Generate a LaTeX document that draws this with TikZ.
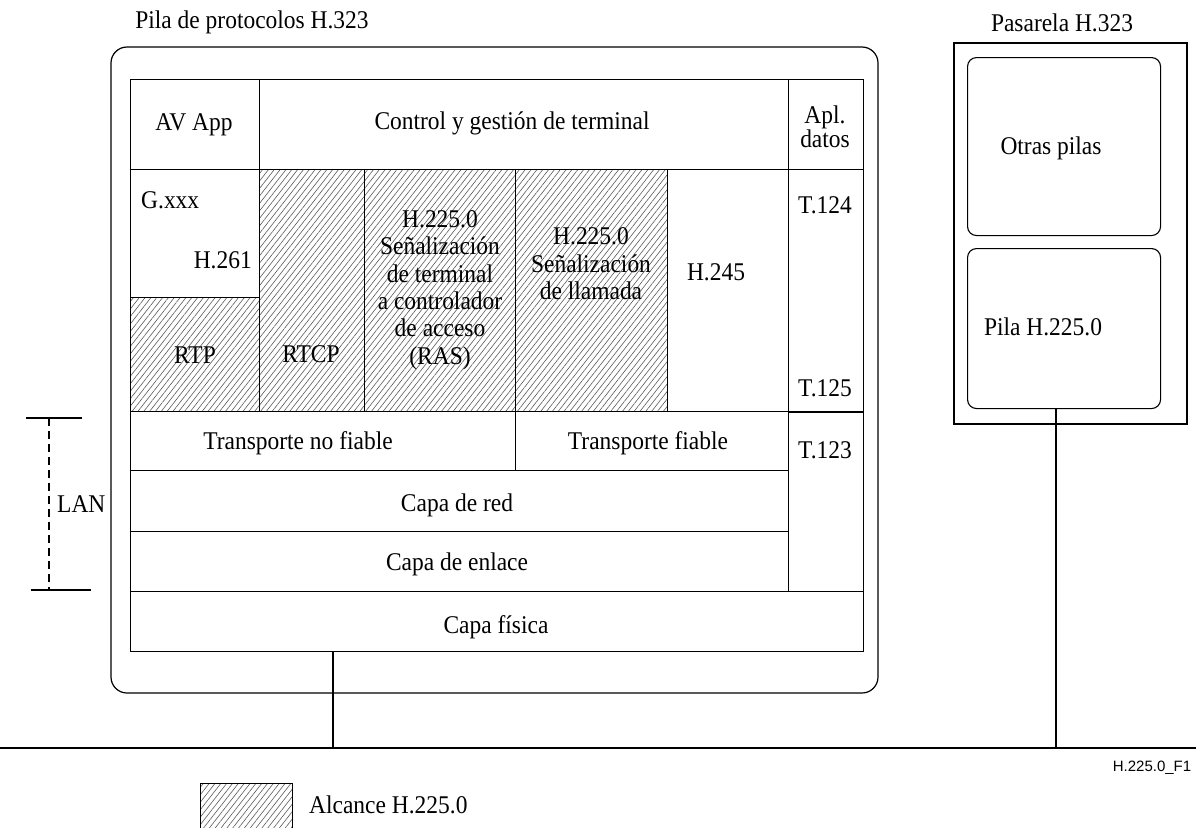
\documentclass[tikz,border=0pt]{standalone}
\usepackage{fontspec}
\setmainfont{Liberation Serif}[FakeStretch=0.92]
\newfontfamily\labelsans{Liberation Sans}
\usetikzlibrary{patterns.meta}
\begin{document}
\begin{tikzpicture}[x=1pt,y=-1pt,
  every node/.style={font=\fontsize{25.5}{27.4}\selectfont, inner sep=0pt},
  cell/.style={draw, line width=1.2pt, anchor=north west, minimum width=#1},
  scope225/.style={pattern={Lines[angle=52,distance=4.6pt,line width=0.6pt]}, pattern color=black!65},
  stackbox/.style={draw, line width=1.1pt, rounded corners=9pt, anchor=north west},
  wire/.style={line width=1.1pt}]
\useasboundingbox (0,0) rectangle (1196,827);

% titles
\node (titleL) at (252,22) {Pila de protocolos H.323};
\node (titleR) at (1062,23) {Pasarela H.323};

% terminal protocol stack frame
\draw[line width=1.2pt, rounded corners=16pt] (111,47) rectangle (878,693);

% top row
\node[cell=129, minimum height=90] (avapp) at (130,79) {};
\node[cell=529, minimum height=90] (ctrl) at (259,79) {};
\node[cell=75, minimum height=90] (apl) at (788,79) {};
% media / signalling row
\node[cell=129, minimum height=128] (gxxx) at (130,169) {};
\node[cell=129, minimum height=114, scope225] (rtp) at (130,297) {};
\node[cell=105, minimum height=242, scope225] (rtcp) at (259,169) {};
\node[cell=151, minimum height=242, scope225] (ras) at (364,169) {};
\node[cell=152, minimum height=242, scope225] (call) at (515,169) {};
\node[cell=121, minimum height=242] (h245) at (667,169) {};
\node[cell=75, minimum height=242] (tcol) at (788,169) {};
% transport and lower layers
\node[cell=385, minimum height=59] (unrel) at (130,411) {};
\node[cell=273, minimum height=59] (rel) at (515,411) {};
\node[cell=75, minimum height=180] (t123) at (788,411) {};
\node[cell=658, minimum height=61] (net) at (130,470) {};
\node[cell=658, minimum height=60] (link) at (130,531) {};
\node[cell=733, minimum height=60] (phys) at (130,591) {};
\draw[line width=2pt] (tcol.south west) -- (tcol.south east);

% cell texts
\node at (194,125) {AV App};
\node at (512,123) {Control y gestión de terminal};
\node[align=center, font=\fontsize{25.5}{22}\selectfont] at (825,127) {Apl.\\datos};
\node[anchor=west] at (141,200) {G.xxx};
\node[anchor=east] at (252,260) {H.261};
\node at (195,355) {RTP};
\node at (311,354) {RTCP};
\node[align=center] at (440,290) {H.225.0\\Señalización\\de terminal\\a controlador\\de acceso\\(RAS)};
\node[align=center] at (591,264) {H.225.0\\Señalización\\de llamada};
\node at (716,272) {H.245};
\node at (825,205) {T.124};
\node at (825,388) {T.125};
\node at (298,443) {Transporte no fiable};
\node at (648,443) {Transporte fiable};
\node at (825,450) {T.123};
\node at (457,505) {Capa de red};
\node at (457,564) {Capa de enlace};
\node at (496,627) {Capa física};

% gateway
\draw[line width=1.1pt] (954,43) rectangle (1187,424);
\node[stackbox, minimum width=193, minimum height=178] (others) at (967,57) {};
\node[stackbox, minimum width=193, minimum height=160] (gwstack) at (967,248) {};
\node at (1051,148) {Otras pilas};
\node at (1043,327) {Pila H.225.0};

% LAN segment
\coordinate (lanW) at (0,748);
\coordinate (lanE) at (1196,748);
\coordinate (tapA) at (333,748);
\coordinate (tapB) at (1056,748);
\draw[wire] (lanW) -- (lanE);
\draw[wire] (phys.south -| tapA) -- (tapA);
\draw[wire] (gwstack.south -| tapB) -- (tapB);

% LAN extent marker
\coordinate (lanTop) at (49,418);
\coordinate (lanBot) at (49,590);
\draw[wire] (26,418) -- (82,418);
\draw[wire] (31,590) -- (91,590);
\draw[line width=1.4pt, dash pattern=on 8pt off 5pt] (lanTop) -- (lanBot);
\node[anchor=west] (lan) at (57,504) {LAN};

% figure tag
\node[font=\labelsans\fontsize{15}{15}\selectfont] (tag) at (1152,768) {H.225.0\_F1};

% legend
\node[draw, line width=1.1pt, scope225, anchor=north west, minimum width=92, minimum height=50] (legend) at (200,783) {};
\node[anchor=west] (legtext) at (309,805) {Alcance H.225.0};
\end{tikzpicture}
\end{document}
